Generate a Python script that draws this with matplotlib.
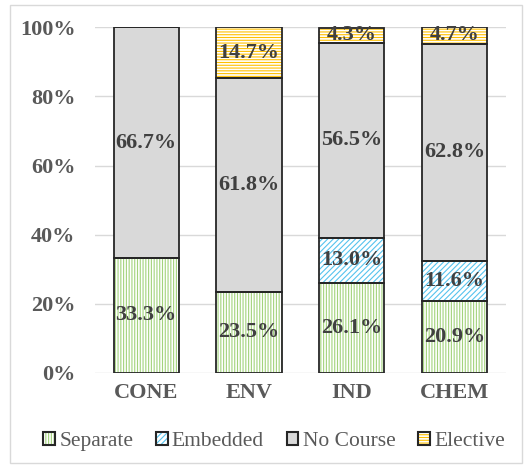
import matplotlib
matplotlib.use("Agg")
import matplotlib.pyplot as plt
from matplotlib.patches import Patch, Rectangle
from matplotlib.ticker import PercentFormatter
from matplotlib.font_manager import FontProperties
import numpy as np

categories = ["CONE", "ENV", "IND", "CHEM"]
separate = [33.3, 23.5, 26.1, 20.9]
embedded = [0.0, 0.0, 13.0, 11.6]
no_course = [66.7, 61.8, 56.5, 62.8]
elective = [0.0, 14.7, 4.3, 4.7]

series = [
    ("Separate", separate, "#A3D37C", "white", "||||||"),
    ("Embedded", embedded, "#55C3EE", "white", "//////"),
    ("No Course", no_course, "#D9D9D9", "#D9D9D9", ""),
    ("Elective", elective, "#FFC000", "white", "------"),
]

plt.rcParams["font.family"] = "serif"
plt.rcParams["font.serif"] = ["Liberation Serif", "DejaVu Serif"]
plt.rcParams["hatch.linewidth"] = 0.8

fig = plt.figure(figsize=(5.27, 4.67), dpi=100)
ax = fig.add_axes([0.180, 0.2013, 0.780, 0.7402])

x = np.arange(len(categories))
width = 0.633
outline = "#262626"
text_col = "#404040"

bottom = np.zeros(len(categories))
handles = []
for name, vals, hcol, face, hatch in series:
    vals = np.array(vals)
    if hatch:
        ax.bar(x, vals, width, bottom=bottom, facecolor=face, edgecolor=hcol,
               hatch=hatch, linewidth=0, zorder=2)
    else:
        ax.bar(x, vals, width, bottom=bottom, facecolor=face, linewidth=0, zorder=2)
    ax.bar(x, vals, width, bottom=bottom, fill=False, edgecolor=outline,
           linewidth=1.3, zorder=3)
    for xi, b, v in zip(x, bottom, vals):
        if v > 0:
            ax.text(xi, b + v / 2, f"{v:.1f}%", ha="center", va="center",
                    fontsize=16, fontweight="bold", color=text_col, zorder=4)
    bottom += vals
    if hatch:
        inner = Patch(facecolor=face, edgecolor=hcol, hatch=hatch, linewidth=0)
    else:
        inner = Patch(facecolor=face, linewidth=0)
    handles.append((inner, Patch(fill=False, edgecolor=outline, linewidth=1.5)))

ax.set_xlim(-0.5, len(categories) - 0.5)
ax.set_ylim(0, 100)
ax.set_yticks(np.arange(0, 101, 20))
ax.yaxis.set_major_formatter(PercentFormatter(decimals=0))
ax.set_xticks(x)
ax.set_xticklabels(categories)
for lbl in ax.get_xticklabels() + ax.get_yticklabels():
    lbl.set_fontweight("bold")
    lbl.set_fontsize(16)
    lbl.set_color("#595959")
ax.tick_params(axis="both", length=0)
ax.tick_params(axis="y", pad=14)
ax.tick_params(axis="x", pad=7)
for s in ax.spines.values():
    s.set_visible(False)
ax.yaxis.grid(True, color="#D9D9D9", linewidth=1.0, zorder=0)
ax.set_axisbelow(True)

legend_font = FontProperties(family="Liberation Serif", weight="normal", size=15.5)
fig.legend(handles, [s[0] for s in series], loc="center",
           bbox_to_anchor=(0.52, 0.055), ncol=4, frameon=False,
           handlelength=0.55, handleheight=0.55, handletextpad=0.2,
           columnspacing=1.05, prop=legend_font, labelcolor="#595959")

fig.patches.append(Rectangle((10 / 527, 4 / 467), 512 / 527, 458 / 467,
                             transform=fig.transFigure, fill=False,
                             edgecolor="#D9D9D9", linewidth=1.0))

fig.savefig("out.png", dpi=100)
